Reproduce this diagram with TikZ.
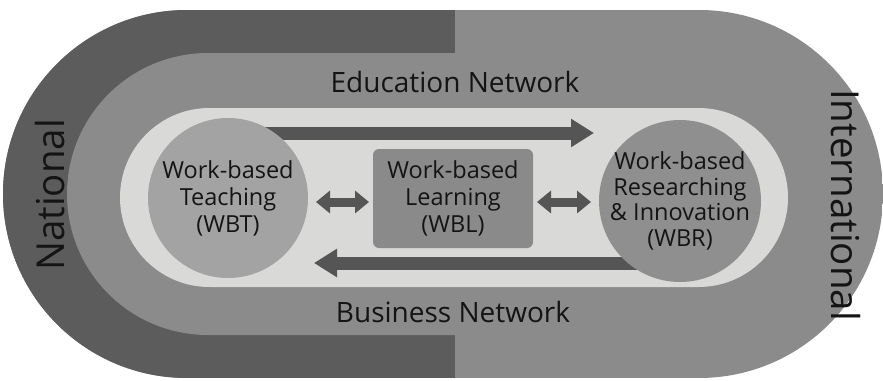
\documentclass[tikz,border=0pt]{standalone}
\usepackage{fontspec}
\setmainfont{Open Sans}
\usetikzlibrary{arrows.meta}
\definecolor{bandDark}{HTML}{5C5C5C}
\definecolor{bandMid}{HTML}{8B8B8B}
\definecolor{innerLight}{HTML}{D9DAD8}
\definecolor{wbtFill}{HTML}{A3A3A3}
\definecolor{wbrFill}{HTML}{8F8F8F}
\definecolor{wblFill}{HTML}{8A8A8A}
\definecolor{arrowGray}{HTML}{555555}
\definecolor{textDark}{HTML}{141414}
\tikzset{
  netlabel/.style={text=textDark, font=\fontsize{28}{32}\selectfont},
  scopelabel/.style={text=textDark, font=\fontsize{38.5}{42}\selectfont},
  boxtext/.style={text=textDark, font=\fontsize{23.5}{27}\selectfont, align=center, inner sep=0pt},
  bigarrow/.style={draw=arrowGray, line width=13pt, -{Triangle[length=23pt,width=27pt]}},
  duoarrow/.style={draw=arrowGray, line width=9pt, {Triangle[length=14pt,width=22pt]}-{Triangle[length=14pt,width=22pt]}}
}
\begin{document}
\begin{tikzpicture}[x=1pt,y=-1pt]
\useasboundingbox (0,0) rectangle (883,380);
\fill[white] (0,0) rectangle (883,380);
% outer stadium with dark left half
\begin{scope}
  \clip[rounded corners=184pt] (3,10) rectangle (883,378);
  \fill[bandMid] (3,10) rectangle (883,378);
  \fill[bandDark] (3,10) rectangle (455,378);
\end{scope}
% middle stadium
\fill[bandMid, rounded corners=141pt] (67,53) rectangle (820,335);
% inner light stadium
\fill[innerLight, rounded corners=89.5pt] (120,108) rectangle (788,287);
% labels
\node[netlabel] (edu) at (455,82) {Education Network};
\node[netlabel] (bus) at (453,312) {Business Network};
\node[scopelabel, rotate=90] (nat) at (50,195) {National};
\node[scopelabel, rotate=-90] (intl) at (846,205) {International};
% flow arrows (behind circles)
\coordinate (topStart) at (245,133);
\coordinate (topEnd) at (594,133);
\coordinate (botStart) at (660,263);
\coordinate (botEnd) at (314,263);
\draw[bigarrow] (topStart) -- (topEnd);
\draw[bigarrow] (botStart) -- (botEnd);
% nodes
\node[circle, fill=wbtFill, minimum size=160pt, inner sep=0pt] (wbt) at (228,198) {};
\node[boxtext] (wbttext) at (wbt.center) {Work-based\\Teaching\\(WBT)};
\node[fill=wblFill, rounded corners=6pt, minimum width=160pt, minimum height=99pt, inner sep=0pt] (wbl) at (453,198.5) {};
\node[boxtext] (wbltext) at (wbl.center) {Work-based\\Learning\\(WBL)};
\node[circle, fill=wbrFill, minimum size=162pt, inner sep=0pt] (wbr) at (680,201) {};
\node[boxtext, font=\fontsize{23.5}{25.5}\selectfont] (wbrtext) at (wbr.center) {Work-based\\Researching\\\& Innovation\\(WBR)};
% double arrows
\coordinate (a1) at (316,202);
\coordinate (a2) at (369,202);
\coordinate (b1) at (537,202);
\coordinate (b2) at (591,202);
\draw[duoarrow] (a1) -- (a2);
\draw[duoarrow] (b1) -- (b2);
\end{tikzpicture}
\end{document}
